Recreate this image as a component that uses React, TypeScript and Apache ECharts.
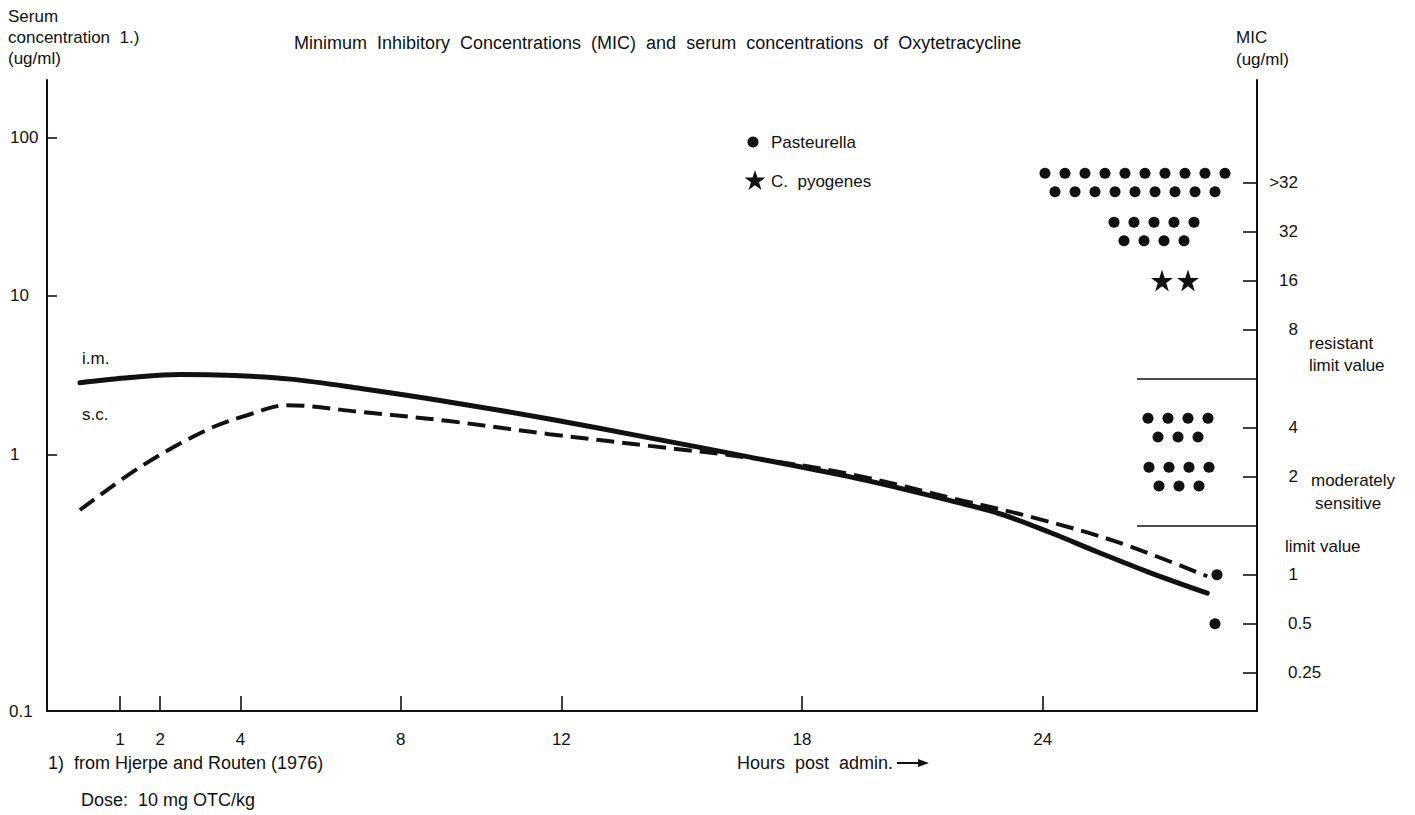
import React, { useEffect, useRef } from "react";
import * as echarts from "echarts";

const FONT = '"Liberation Sans", Arial, Helvetica, sans-serif';
const INK = "#111111";

// Serum concentration (ug/ml) against hours post administration
const imHours = [0, 1.25, 2.5, 3.85, 5.25, 7.0, 9.2, 11.7, 14.2, 16.7, 19.2, 20.45, 21.7, 22.95, 24.2, 25.4, 26.65, 28.1];
const imConc = [2.83, 3.05, 3.19, 3.14, 2.98, 2.6, 2.14, 1.67, 1.27, 0.96, 0.72, 0.61, 0.51, 0.42, 0.32, 0.24, 0.18, 0.133];
const scHours = [0, 1.5, 3.15, 4.25, 5.15, 7.0, 9.2, 11.7, 14.2, 16.7, 19.2, 22.0, 23.75, 25.85, 28.1];
const scConc = [0.445, 0.83, 1.42, 1.79, 2.04, 1.85, 1.62, 1.34, 1.13, 0.95, 0.75, 0.51, 0.4, 0.28, 0.17];

// axis ticks
const hourTicks = [1, 2, 4, 8, 12, 18, 24];
const serumTicks = [1, 10, 100];

// ordinal MIC scale, bottom to top; the two breakpoints take a slot each
const micLevels = ["0.25", "0.5", "1", "limit value", "2", "4", "resistant limit value", "8", "16", "32", ">32"];
const micTickLabels = ["0.25", "0.5", "1", "2", "4", "8", "16", "32", ">32"];
const micBreakpoints = ["limit value", "resistant limit value"];

// number of isolates per MIC class
const pasteurellaMic = [">32", "32", "4", "2", "1", "0.5"];
const pasteurellaCount = [19, 9, 7, 7, 1, 1];
const pyogenesMic = ["16"];
const pyogenesCount = [2];

// ---- layout (not data) ----
const DOT_SLOTS = 60.5; // width of the isolate strip, in dot pitches
const pasteurellaRowStart = [49.9, 53.35, 55.05, 55.1, 58.5, 58.4];
const pyogenesRowStart = [55.75];
const STAR_PITCH = 1.3;
const ROW_OFFSET = 0.19;
const BREAK_LINE_START = 54.5;

const STAR =
  "path://M50,0 L61.8,35.1 L98.9,35.1 L68.9,56.8 L80.3,91.9 L50,70.2 L19.7,91.9 L31.1,56.8 L1.1,35.1 L38.2,35.1 Z";

function isolateDots(mics: string[], counts: number[], starts: number[], rows: number, pitch: number) {
  const pts: number[][] = [];
  mics.forEach((m, k) => {
    const lvl = micLevels.indexOf(m);
    const n = counts[k];
    const rowCounts = rows === 2 && n > 1 ? [Math.ceil(n / 2), Math.floor(n / 2)] : [n];
    rowCounts.forEach((c, r) => {
      const y = rowCounts.length === 2 ? lvl + (r === 0 ? ROW_OFFSET : -ROW_OFFSET) : lvl;
      const x0 = starts[k] + r * 0.5 * pitch;
      for (let j = 0; j < c; j++) pts.push([x0 + j * pitch, y]);
    });
  });
  return pts;
}

function starPoints(cx: number, cy: number, R: number) {
  const r = R * 0.382;
  const pts: number[][] = [];
  for (let i = 0; i < 10; i++) {
    const a = -Math.PI / 2 + (i * Math.PI) / 5;
    const rad = i % 2 === 0 ? R : r;
    pts.push([cx + rad * Math.cos(a), cy + rad * Math.sin(a)]);
  }
  return pts;
}

const txt = (x: number, y: number, text: string, extra: any = {}, size = 17) => ({
  type: "text",
  x,
  y,
  silent: true,
  style: {
    text,
    fill: INK,
    font: `${size}px ${FONT}`,
    textVerticalAlign: "middle",
    verticalAlign: "middle",
    align: "left",
    ...extra,
  },
});

export default function App() {
  const ref = useRef<HTMLDivElement>(null);

  useEffect(() => {
    if (!ref.current) return;
    const chart = echarts.init(ref.current, null, { renderer: "svg" });

    const axisLine = { color: INK, width: 2 };
    const tickLine = { color: INK, width: 1.6 };
    const labelStyle = { color: INK, fontSize: 17, fontFamily: FONT };
    const micTickIdx = micTickLabels.map((l) => micLevels.indexOf(l));

    const option: any = {
      animation: false,
      backgroundColor: "#ffffff",
      title: {
        text: "Minimum  Inhibitory  Concentrations  (MIC)  and  serum  concentrations  of  Oxytetracycline",
        left: 289,
        top: 29,
        textStyle: { color: INK, fontSize: 18, fontWeight: "normal", fontFamily: FONT },
      },
      grid: { left: 47, right: 158, top: 80, bottom: 104, containLabel: false },
      xAxis: [
        {
          type: "value",
          min: -0.82,
          max: 29.34,
          position: "bottom",
          axisLine: { show: true, onZero: false, lineStyle: axisLine },
          axisTick: { show: true, inside: true, length: 15, customValues: hourTicks, lineStyle: tickLine },
          axisLabel: { show: true, customValues: hourTicks, margin: 20, ...labelStyle },
          splitLine: { show: false },
        },
        { type: "value", min: 0, max: DOT_SLOTS, show: false },
      ],
      yAxis: [
        {
          type: "log",
          logBase: 10,
          min: 0.024,
          max: 230,
          position: "left",
          axisLine: { show: true, onZero: false, lineStyle: axisLine },
          axisTick: { show: true, inside: true, length: 10, customValues: serumTicks, lineStyle: tickLine },
          axisLabel: {
            show: true,
            customValues: serumTicks,
            align: "left",
            margin: 37,
            formatter: (v: number) => String(v),
            ...labelStyle,
          },
          splitLine: { show: false },
          minorTick: { show: false },
        },
        {
          type: "value",
          min: -0.78,
          max: 12.09,
          position: "right",
          axisLine: { show: true, onZero: false, lineStyle: axisLine },
          axisTick: { show: true, inside: true, length: 14, customValues: micTickIdx, lineStyle: tickLine },
          axisLabel: {
            show: true,
            customValues: micTickIdx,
            align: "left",
            margin: 31,
            formatter: (v: number) => {
              const lab = micLevels[Math.round(v)];
              return lab.indexOf(".") >= 0 ? `{d|${lab}}` : `{i|${lab}}`;
            },
            rich: {
              i: { width: 10, align: "right", color: INK, fontSize: 17, fontFamily: FONT },
              d: { align: "left", color: INK, fontSize: 17, fontFamily: FONT },
            },
            ...labelStyle,
          },
          splitLine: { show: false },
        },
      ],
      series: [
        {
          name: "i.m.",
          type: "line",
          xAxisIndex: 0,
          yAxisIndex: 0,
          data: imHours.map((h, i) => [h, imConc[i]]),
          smooth: 0.35,
          showSymbol: false,
          symbol: "none",
          silent: true,
          lineStyle: { color: INK, width: 5, cap: "round" },
        },
        {
          name: "s.c.",
          type: "line",
          xAxisIndex: 0,
          yAxisIndex: 0,
          data: scHours.map((h, i) => [h, scConc[i]]),
          smooth: 0.35,
          showSymbol: false,
          symbol: "none",
          silent: true,
          lineStyle: { color: INK, width: 4, type: [18, 8] },
        },
        {
          name: "Pasteurella",
          type: "scatter",
          xAxisIndex: 1,
          yAxisIndex: 1,
          symbol: "circle",
          symbolSize: 11,
          silent: true,
          itemStyle: { color: INK, opacity: 1 },
          data: isolateDots(pasteurellaMic, pasteurellaCount, pasteurellaRowStart, 2, 1),
          markLine: {
            silent: true,
            symbol: ["none", "none"],
            label: { show: false },
            lineStyle: { color: INK, width: 1.5, type: "solid", opacity: 1 },
            data: micBreakpoints.map((b) => [
              { coord: [BREAK_LINE_START, micLevels.indexOf(b)] },
              { coord: [DOT_SLOTS, micLevels.indexOf(b)] },
            ]),
          },
        },
        {
          name: "C. pyogenes",
          type: "scatter",
          xAxisIndex: 1,
          yAxisIndex: 1,
          symbol: STAR,
          symbolSize: 22,
          silent: true,
          itemStyle: { color: INK, opacity: 1 },
          data: isolateDots(pyogenesMic, pyogenesCount, pyogenesRowStart, 1, STAR_PITCH),
        },
      ],
      graphic: [
        txt(8, 37, "Serum\nconcentration  1.)\n(ug/ml)", { lineHeight: 21 }),
        txt(1236, 48, "MIC\n(ug/ml)", { lineHeight: 22 }),
        txt(9, 711, "0.1"),
        txt(82, 358, "i.m."),
        txt(82, 414, "s.c."),
        { type: "circle", silent: true, shape: { cx: 753, cy: 142, r: 5.5 }, style: { fill: INK } },
        txt(771, 142, "Pasteurella"),
        { type: "polygon", silent: true, shape: { points: starPoints(755, 181, 11) }, style: { fill: INK } },
        txt(771, 181, "C.  pyogenes"),
        txt(1309, 343, "resistant"),
        txt(1309, 365, "limit value"),
        txt(1311, 480, "moderately"),
        txt(1315, 503, "sensitive"),
        txt(1285, 546, "limit value"),
        txt(48, 763, "1)  from Hjerpe and Routen (1976)", {}, 18),
        txt(737, 763, "Hours  post  admin.", {}, 18),
        {
          type: "line",
          silent: true,
          shape: { x1: 897, y1: 763, x2: 920, y2: 763 },
          style: { stroke: INK, lineWidth: 2 },
        },
        {
          type: "polygon",
          silent: true,
          shape: { points: [[918, 759], [929, 763], [918, 767]] },
          style: { fill: INK },
        },
        txt(81, 800, "Dose:  10 mg OTC/kg", {}, 18),
      ],
    };

    chart.setOption(option);
    return () => chart.dispose();
  }, []);

  return (
    <div
      ref={ref}
      style={{ position: "fixed", left: 0, top: 0, width: 1415, height: 815, background: "#ffffff" }}
    />
  );
}
